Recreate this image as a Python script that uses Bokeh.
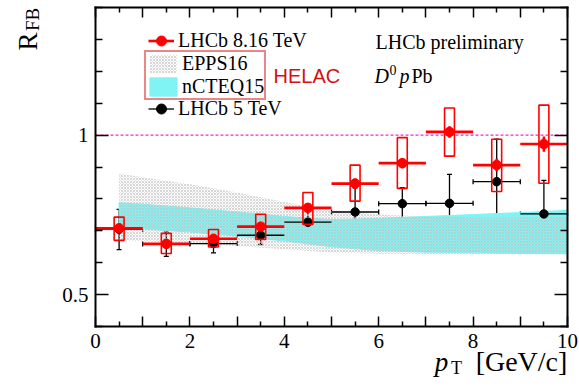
import math
from bokeh.plotting import figure
from bokeh.models import (ColumnDataSource, Whisker, TeeHead, Legend, LegendItem, Label,
                          LinearAxis, FixedTicker, Range1d)
from bokeh.embed import file_html
from bokeh.resources import INLINE

# ---------------- data ----------------
pt_center = [0.5, 1.5, 2.5, 3.5, 4.5, 5.5, 6.5, 7.5, 8.5, 9.5]
pt_low = [0, 1, 2, 3, 4, 5, 6, 7, 8, 9]
pt_high = [1, 2, 3, 4, 5, 6, 7, 8, 9, 10]

# LHCb 8.16 TeV (red)
r816 = [0.708, 0.659, 0.675, 0.713, 0.772, 0.848, 0.912, 1.010, 0.906, 0.972]
r816_stat = [0.012, 0.012, 0.012, 0.013, 0.014, 0.016, 0.016, 0.018, 0.020, 0.024]
r816_syst_low = [0.670, 0.629, 0.649, 0.673, 0.720, 0.793, 0.833, 0.934, 0.823, 0.849]
r816_syst_high = [0.743, 0.692, 0.704, 0.752, 0.820, 0.906, 0.992, 1.085, 0.987, 1.094]

# LHCb 5 TeV (black)
r5 = [0.705, 0.659, 0.660, 0.686, 0.727, 0.759, 0.785, 0.786, 0.854, 0.753]
r5_err_low = [0.641, 0.620, 0.631, 0.657, 0.689, 0.680, 0.730, 0.696, 0.724, 0.647]
r5_err_high = [0.767, 0.696, 0.692, 0.715, 0.765, 0.835, 0.835, 0.877, 0.987, 0.858]

# theory bands (HELAC)
band_x = [0.5, 1, 2, 3, 4, 5, 6, 7, 8, 9, 10]
epps16_high = [0.880, 0.868, 0.846, 0.820, 0.790, 0.766, 0.751, 0.745, 0.742, 0.742, 0.744]
epps16_low = [0.670, 0.667, 0.660, 0.652, 0.642, 0.632, 0.628, 0.627, 0.627, 0.627, 0.627]
ncteq15_high = [0.788, 0.783, 0.772, 0.759, 0.745, 0.735, 0.739, 0.745, 0.751, 0.757, 0.764]
ncteq15_low = [0.712, 0.706, 0.696, 0.684, 0.668, 0.650, 0.638, 0.633, 0.631, 0.629, 0.628]

unity = 1.0

x_lim = (0, 10)
y_lim = (0.4, 1.4)
x_ticks = [0, 1, 2, 3, 4, 5, 6, 7, 8, 9, 10]
x_minor_ticks = [0.5, 1.5, 2.5, 3.5, 4.5, 5.5, 6.5, 7.5, 8.5, 9.5]
x_tick_labels = {0: "0", 1: "", 2: "2", 3: "", 4: "4", 5: "", 6: "6", 7: "", 8: "8", 9: "", 10: "10"}
y_ticks = [0.5, 1.0]
y_minor_ticks = [0.4, 0.6, 0.7, 0.8, 0.9, 1.1, 1.2, 1.3, 1.4]
y_tick_labels = {0.5: "0.5", 1.0: "1"}

# ---------------- layout (pixels) ----------------
W, H = 579, 388
BOX_L, BOX_R, BOX_T, BOX_B = 95, 567, 7, 326   # plot box in canvas pixels
sx = (BOX_R - BOX_L) / (x_lim[1] - x_lim[0])
sy = (BOX_B - BOX_T) / (y_lim[1] - y_lim[0])
x_range = Range1d(x_lim[0] - BOX_L / sx, x_lim[1] + (W - BOX_R) / sx)
y_range = Range1d(y_lim[0] - (H - BOX_B) / sy, y_lim[1] + BOX_T / sy)

SERIF = "Liberation Serif"
SANS = "Liberation Sans"
RED = "#ff0000"
DARKRED = "#d41010"
box_half = 0.105

p = figure(width=W, height=H, x_range=x_range, y_range=y_range,
           output_backend="svg", toolbar_location=None,
           min_border_left=0, min_border_right=0, min_border_top=0, min_border_bottom=0)
p.xaxis.visible = False
p.yaxis.visible = False
p.grid.visible = False
p.outline_line_color = None
p.background_fill_color = "white"
p.border_fill_color = "white"


def make_axis(ticks, minor, labels, loc, bounds, tick_in, minor_in, show_labels):
    ax = LinearAxis(fixed_location=loc, bounds=bounds,
                    ticker=FixedTicker(ticks=ticks, minor_ticks=minor))
    ax.axis_line_color = "black"
    ax.axis_line_width = 2
    ax.axis_line_cap = "square"
    ax.major_tick_in = tick_in
    ax.major_tick_out = 0
    ax.minor_tick_in = minor_in
    ax.minor_tick_out = 0
    ax.major_tick_line_width = 1.5
    ax.minor_tick_line_width = 1.5
    ax.major_tick_line_color = "black"
    ax.minor_tick_line_color = "black"
    ax.major_label_text_font = SERIF
    ax.major_label_text_font_size = "21px"
    ax.major_label_text_color = "black"
    ax.major_label_standoff = 7
    if show_labels:
        ax.major_label_overrides = labels
    else:
        ax.major_label_overrides = {t: "" for t in ticks}
    return ax


p.add_layout(make_axis(x_ticks, x_minor_ticks, x_tick_labels, y_lim[0], x_lim, 10, 5, True), "below")
p.add_layout(make_axis(x_ticks, x_minor_ticks, None, y_lim[1], x_lim, 10, 5, False), "above")
p.add_layout(make_axis(y_ticks, y_minor_ticks, y_tick_labels, x_lim[0], y_lim, 13, 7, True), "left")
p.add_layout(make_axis(y_ticks, y_minor_ticks, None, x_lim[1], y_lim, 13, 7, False), "right")

# ---------------- bands ----------------
nc_x = band_x + band_x[::-1]
nc_y = ncteq15_high + ncteq15_low[::-1]
r_nc = p.patch(nc_x, nc_y, fill_color="#80f4f4", fill_alpha=1.0, line_color="#80f4f4", line_width=1)
ep_x = band_x + band_x[::-1]
ep_y = epps16_high + epps16_low[::-1]
r_ep = p.patch(ep_x, ep_y, fill_color=None, line_color=None,
               hatch_pattern="diagonal_cross", hatch_color="#c4c4c4", hatch_scale=3,
               hatch_weight=0.9, hatch_alpha=0.75)

# unity line
p.segment(x0=[x_lim[0]], x1=[x_lim[1]], y0=[unity], y1=[unity], line_color="#ff22cc",
          line_width=1.2, line_dash="3 2")

# ---------------- LHCb 5 TeV (black) ----------------
src5 = ColumnDataSource(dict(x=pt_center, xl=pt_low, xh=pt_high, y=r5,
                             yl=r5_err_low, yh=r5_err_high))
r_b_h = p.segment(x0="xl", x1="xh", y0="y", y1="y", source=src5, line_color="black", line_width=1.3)
p.add_layout(Whisker(base="y", lower="xl", upper="xh", dimension="width", source=src5,
                     line_alpha=0,
                     lower_head=TeeHead(size=5, line_color="black", line_width=1.3),
                     upper_head=TeeHead(size=5, line_color="black", line_width=1.3)))
p.add_layout(Whisker(base="x", lower="yl", upper="yh", dimension="height", source=src5,
                     line_color="black", line_width=1.3,
                     lower_head=TeeHead(size=5, line_color="black", line_width=1.3),
                     upper_head=TeeHead(size=5, line_color="black", line_width=1.3)))
r_b_pt = p.scatter("x", "y", source=src5, size=8.5, marker="circle", fill_color="black",
                   line_color="black")

# ---------------- LHCb 8.16 TeV (red) ----------------
src8 = ColumnDataSource(dict(
    x=pt_center, xl=pt_low, xh=pt_high, y=r816,
    sl=[v - e for v, e in zip(r816, r816_stat)], sh=[v + e for v, e in zip(r816, r816_stat)],
    bl=[c - box_half for c in pt_center], br=[c + box_half for c in pt_center],
    bb=r816_syst_low, bt=r816_syst_high))
p.quad(left="bl", right="br", bottom="bb", top="bt", source=src8, fill_color=None,
       line_color=RED, line_width=1.6)
r_r_h = p.segment(x0="xl", x1="xh", y0="y", y1="y", source=src8, line_color=RED, line_width=2.6)
p.segment(x0="x", x1="x", y0="sl", y1="sh", source=src8, line_color=RED, line_width=2.6)
r_r_pt = p.scatter("x", "y", source=src8, size=9.5, marker="circle", fill_color=RED,
                   line_color=RED)

# ---------------- legends (locations in frame pixels from bottom-left) ----------------
common = dict(background_fill_alpha=0, margin=0, label_text_font=SERIF,
              label_text_font_size="20px", label_text_color="black",
              label_text_line_height=1.0)
leg1 = Legend(items=[LegendItem(label="LHCb 8.16 TeV", renderers=[r_r_h, r_r_pt])],
              location=(148, H - 53), padding=0, border_line_alpha=0, glyph_width=26,
              glyph_height=25, label_standoff=4, spacing=0, **common)
leg2 = Legend(items=[LegendItem(label="EPPS16", renderers=[r_ep]),
                     LegendItem(label="nCTEQ15", renderers=[r_nc])],
              location=(144, H - 99.5), padding=0, border_line_color=DARKRED, border_line_width=2,
              glyph_width=34, glyph_height=23, label_standoff=2, spacing=1,
              **common)
try:
    leg2.spacing = -3
except ValueError:
    leg2.spacing = 0
    leg2.location = (144, H - 99)
leg3 = Legend(items=[LegendItem(label="LHCb 5 TeV", renderers=[r_b_h, r_b_pt])],
              location=(148, H - 121), padding=0, border_line_alpha=0, glyph_width=26,
              glyph_height=25, label_standoff=4, spacing=0, **common)
for lg in (leg1, leg2, leg3):
    p.add_layout(lg)


# ---------------- texts (canvas pixel positions, vertically centred) ----------------
def lab(text, cx, cy, size, font=SERIF, style="normal", color="black", align="left",
        angle=0.0):
    p.add_layout(Label(x=cx, y=H - cy, x_units="screen", y_units="screen", text=text,
                       text_font=font, text_font_size=f"{size}px", text_font_style=style,
                       text_color=color, text_align=align, text_baseline="middle",
                       angle=angle))


lab("HELAC", 273, 75, 20, font=SANS, color=DARKRED)
lab("LHCb preliminary", 375, 41, 20)
lab("D", 374, 75, 20, style="italic")
lab("0", 389, 69, 14)
lab("p", 399, 75, 20, style="italic")
lab("Pb", 411, 75, 20)

# x-axis title
lab("[GeV/c]", 521, 361, 28, align="center")
lab("T", 456, 367, 18, align="center")
lab("p", 441, 361, 27, style="italic", align="center")

# y-axis title (rotated)
lab("R", 27, 41, 27, align="center", angle=math.pi / 2)
lab("FB", 32, 19, 19, align="center", angle=math.pi / 2)

open("out.html", "w").write(file_html(p, INLINE))
